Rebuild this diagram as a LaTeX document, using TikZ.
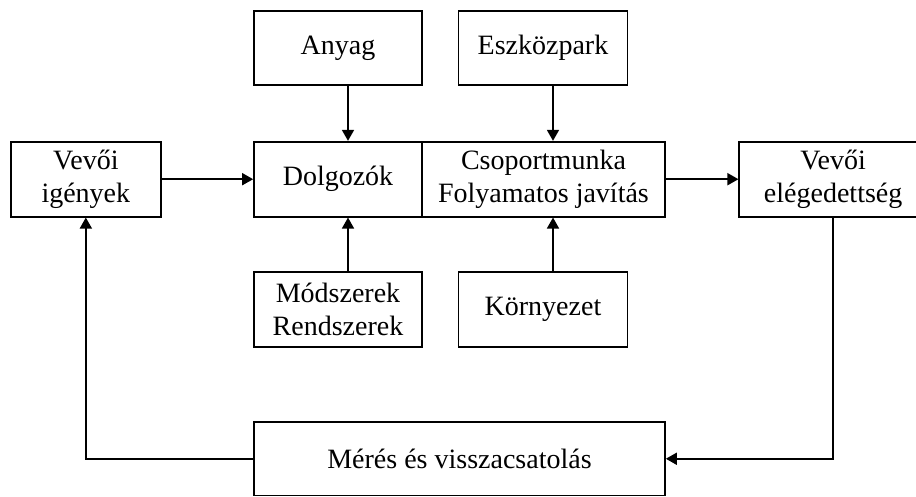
\documentclass[tikz,border=0pt]{standalone}
\usepackage{fontspec}
\setmainfont{Liberation Serif}
\usetikzlibrary{arrows.meta}
\begin{document}
\begin{tikzpicture}[x=1pt,y=-1pt,
  box/.style={draw, line width=1.7pt, rectangle, inner sep=0pt, align=center,
    font=\fontsize{28}{33}\selectfont},
  arr/.style={-{Triangle[length=11pt,width=12pt]}, line width=1.7pt}]
\useasboundingbox (0,0) rectangle (916,496);
\clip (0,0) rectangle (916,496);
\node[box, minimum width=168pt, minimum height=74.3pt] (anyag) at (338,47.85) {Anyag};
\node[box, minimum width=169pt, minimum height=74.3pt] (eszk) at (543,47.85) {Eszközpark};
\node[box, minimum width=149.7pt, minimum height=75pt] (igeny) at (85.85,179.2) {Vevői\\igények};
\node[box, minimum width=168pt, minimum height=75pt] (dolg) at (338,179.2) {Dolgozók};
\node[box, minimum width=243pt, minimum height=75pt] (csop) at (543.5,179.2) {Csoportmunka\\Folyamatos javítás};
\node[box, minimum width=187.7pt, minimum height=75pt] (eleg) at (833.15,179.2) {Vevői\\elégedettség};
\node[box, minimum width=168pt, minimum height=75pt] (modsz) at (338,309.5) {Módszerek\\Rendszerek};
\node[box, minimum width=169pt, minimum height=75pt] (korny) at (543,309.5) {Környezet};
\node[box, minimum width=411pt, minimum height=73.5pt] (meres) at (459.5,458.75) {Mérés és visszacsatolás};
\draw[arr] ([xshift=10pt]anyag.south) -- ([xshift=10pt]dolg.north);
\draw[arr] ([xshift=10pt]eszk.south) -- ([xshift=10pt]eszk.south |- csop.north);
\draw[arr] (igeny.east) -- (dolg.west);
\draw[arr] (csop.east) -- (eleg.west);
\draw[arr] ([xshift=10pt]modsz.north) -- ([xshift=10pt]dolg.south);
\draw[arr] ([xshift=10pt]korny.north) -- ([xshift=10pt]korny.north |- csop.south);
\draw[arr] (eleg.south) |- (meres.east);
\draw[arr] (meres.west) -| (igeny.south);
\end{tikzpicture}
\end{document}
